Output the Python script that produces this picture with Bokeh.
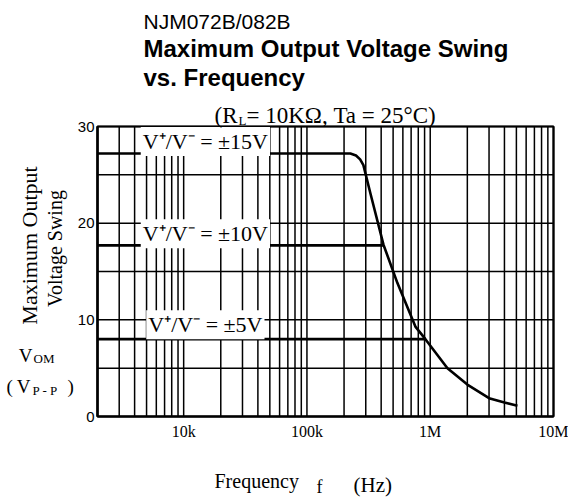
import math
from bokeh.plotting import figure
from bokeh.models import Label, FixedTicker, Range1d, LogAxis, LinearAxis
from bokeh.embed import file_html
from bokeh.resources import INLINE

# ---------------- data ----------------
freq_15 = [2e3, 2.25e5, 2.5e5, 2.7e5, 2.87e5, 3.27e5, 4.17e5, 5.42e5, 7.58e5,
           9.14e5, 1.38e6, 2.0e6, 3.0e6, 4.0e6, 5.1e6]
vom_15 = [27.2, 27.2, 27.0, 26.6, 26.0, 23.1, 17.8, 13.8, 9.3,
          8.0, 5.0, 3.3, 1.9, 1.45, 1.1]
freq_10 = [2e3, 4.17e5]
vom_10 = [17.7, 17.7]
freq_5 = [2e3, 9.14e5]
vom_5 = [8.0, 8.0]
series_labels = ["V\u207a/V\u207b = \u00b115V", "V\u207a/V\u207b = \u00b110V", "V\u207a/V\u207b = \u00b15V"]
label_freq = [1.5e4, 1.5e4, 1.5e4]
label_vom = [28.45, 18.9, 9.5]
x_ticks = [1e4, 1e5, 1e6, 1e7]
x_tick_labels = ["10k", "100k", "1M", "10M"]
y_ticks = [0, 10, 20, 30]
x_grid = [m * 10 ** e for e in range(3, 7) for m in range(1, 10) if m * 10 ** e >= 2e3] + [1e7]
y_grid = [0, 5, 10, 15, 20, 25, 30]
X_MIN, X_MAX, Y_MIN, Y_MAX = 2e3, 1e7, 0, 30

# ---------------- layout (pixel positions of the plot box) ----------------
W, H = 568, 498
PL, PR, PT, PB = 97, 553, 126, 416

lx_per_px = (math.log10(X_MAX) - math.log10(X_MIN)) / (PR - PL)
y_per_px = (Y_MAX - Y_MIN) / (PB - PT)
xr = Range1d(10 ** (math.log10(X_MIN) - PL * lx_per_px),
             10 ** (math.log10(X_MAX) + (W - PR) * lx_per_px))
yr = Range1d(Y_MIN - (H - PB) * y_per_px, Y_MAX + PT * y_per_px)

p = figure(width=W, height=H, x_axis_type="log", output_backend="svg",
           toolbar_location=None, x_range=xr, y_range=yr,
           x_axis_location=None, y_axis_location=None,
           min_border=0, min_border_left=0, min_border_right=0,
           min_border_top=0, min_border_bottom=0)
p.outline_line_color = None
p.background_fill_color = "white"
p.border_fill_color = "white"
p.grid.visible = False

def px2x(px):
    return 10 ** (math.log10(X_MIN) + (px - PL) * lx_per_px)

def py2y(py):
    return Y_MIN + (PB - py) * y_per_px

# grid lines
p.segment(x0=x_grid, y0=[Y_MIN] * len(x_grid), x1=x_grid, y1=[Y_MAX] * len(x_grid),
          line_color="black", line_width=1.5)
p.segment(x0=[X_MIN] * len(y_grid), y0=y_grid, x1=[X_MAX] * len(y_grid), y1=y_grid,
          line_color="black", line_width=1.5)
p.quad(left=[X_MIN], right=[X_MAX], bottom=[Y_MIN], top=[Y_MAX], fill_color=None,
       line_color="black", line_width=2.2)

# axes drawn at the plot box edges
xaxis = LogAxis(fixed_location=Y_MIN, bounds=(X_MIN, X_MAX), ticker=FixedTicker(ticks=x_ticks))
xaxis.major_label_overrides = {t: s for t, s in zip(x_ticks, x_tick_labels)}
yaxis = LinearAxis(fixed_location=X_MIN, bounds=(Y_MIN, Y_MAX), ticker=FixedTicker(ticks=y_ticks))
for ax in (xaxis, yaxis):
    ax.axis_line_color = "black"
    ax.axis_line_width = 2.2
    ax.major_tick_out = 0
    ax.major_tick_in = 0
    ax.minor_tick_out = 0
    ax.minor_tick_in = 0
    ax.major_label_text_color = "black"
xaxis.major_label_text_font = "Liberation Serif"
xaxis.major_label_text_font_size = "16px"
xaxis.major_label_standoff = 6
yaxis.major_label_text_font = "Liberation Sans"
yaxis.major_label_text_font_size = "15px"
yaxis.major_label_standoff = 3
p.add_layout(xaxis, "below")
p.add_layout(yaxis, "left")

# curves
p.line(freq_15, vom_15, line_color="black", line_width=2.6)
p.line(freq_10, vom_10, line_color="black", line_width=2.6)
p.line(freq_5, vom_5, line_color="black", line_width=2.6)

for txt, fx, vy in zip(series_labels, label_freq, label_vom):
    p.add_layout(Label(x=fx, y=vy, text=txt, text_align="center", text_baseline="middle",
                       text_font="Liberation Serif", text_font_size="22px", text_color="black",
                       background_fill_color="white", background_fill_alpha=1.0,
                       padding=2))

def lab(px, py, text, size, font="Liberation Serif", align="center", style="normal",
        angle=0.0):
    p.add_layout(Label(x=px2x(px), y=py2y(py), text=text, text_align=align,
                       text_baseline="middle", text_font=font, text_font_size=size,
                       text_font_style=style, text_color="black", angle=angle))

# titles (pixel positions of text centres)
lab(143, 21, "NJM072B/082B", "21px", font="Liberation Sans", align="left")
lab(143, 48, "Maximum Output Voltage Swing", "24px", font="Liberation Sans", align="left", style="bold")
lab(143, 77, "vs. Frequency", "24px", font="Liberation Sans", align="left", style="bold")

# condition
lab(237, 115, "(R", "23px", align="right")
lab(238, 120, "L", "13px", align="left")
lab(246, 115, "= 10K\u03a9,  Ta = 25\u00b0C)", "23px", align="left")

# y-axis title
lab(29, 245, "Maximum Output", "22px", angle=math.pi / 2)
lab(54, 248, "Voltage Swing", "20px", angle=math.pi / 2)
lab(32, 355, "V", "19px", align="right")
lab(33, 358, "OM", "13px", align="left")
lab(6, 386, "(", "19px", align="left")
lab(30, 386, "V", "19px", align="right")
lab(32, 390, "P - P", "13px", align="left")
lab(67, 386, ")", "19px", align="left")

# x-axis title
lab(214, 480, "Frequency", "20px", align="left")
lab(319, 486, "f", "18px", align="center")
lab(353, 484, "(Hz)", "21px", align="left")

open("out.html", "w").write(file_html(p, INLINE))
